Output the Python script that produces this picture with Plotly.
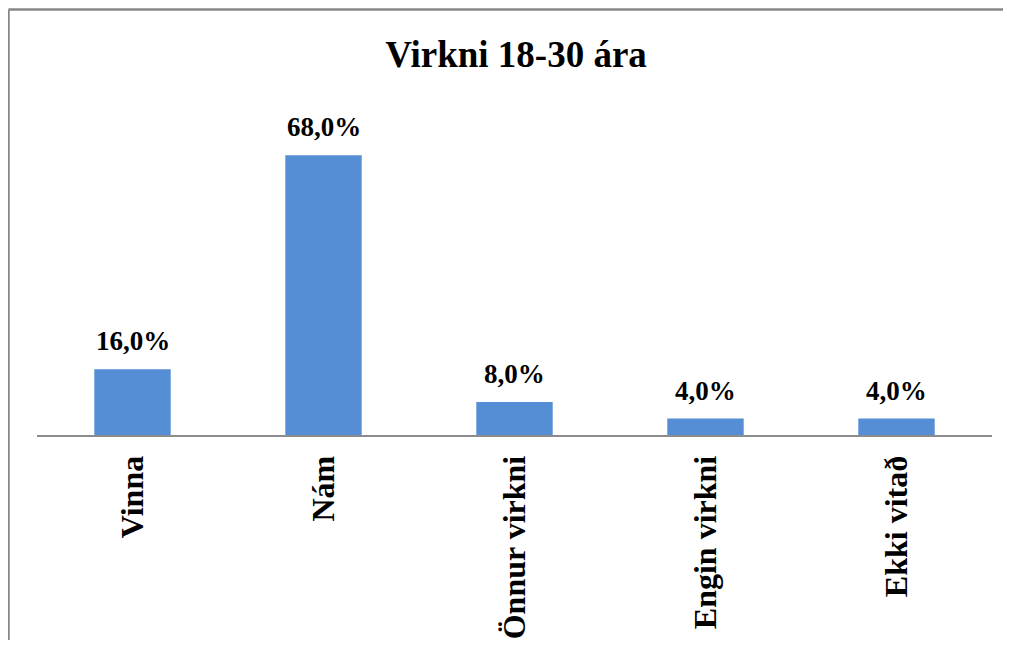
import plotly.graph_objects as go

categories = ["Vinna", "Nám", "Önnur virkni", "Engin virkni", "Ekki vitað"]
values = [16.0, 68.0, 8.0, 4.0, 4.0]
labels = [f"{v:.1f}%".replace(".", ",") for v in values]

# page has 8px body margin, so figure is sized to fit in the window
W, H = 995, 632
ml, mr, mt, mb = 29, 11, 98, 205
ymax = 80

fig = go.Figure()
fig.add_trace(go.Bar(
    x=categories,
    y=values,
    marker=dict(color="#558ED5", line=dict(width=0)),
    width=0.4,
))

for c, v, t in zip(categories, values, labels):
    fig.add_annotation(
        x=c, y=v, text=t, showarrow=False,
        yanchor="bottom", yshift=11,
        font=dict(family="Liberation Serif", size=27, color="black", weight="bold"),
    )

# outer chart border: left and top edges only (the rest falls off the picture)
pw = W - ml - mr
ph = H - mt - mb
x_left = (0.5 - ml) / pw
y_top = (H - mb - 1.5) / ph
border = dict(color="#878787", width=2.5)
fig.add_shape(type="line", xref="paper", yref="paper",
              x0=x_left, x1=x_left, y0=(H - mb - 700) / ph, y1=y_top, line=border)
fig.add_shape(type="line", xref="paper", yref="paper",
              x0=x_left, x1=(1100 - ml) / pw, y0=y_top, y1=y_top, line=border)

fig.update_layout(
    width=W, height=H,
    margin=dict(l=ml, r=mr, t=mt, b=mb),
    paper_bgcolor="white", plot_bgcolor="white",
    showlegend=False,
    title=dict(
        text="<b>Virkni 18-30 ára</b>",
        x=508 / W, xanchor="center", y=1 - 46 / H, yanchor="middle",
        font=dict(family="Liberation Serif", size=37, color="black"),
    ),
)
fig.update_xaxes(
    showline=True, linecolor="#8c8c8c", linewidth=2,
    tickangle=-90, ticks="", ticklabelstandoff=6, automargin=False,
    tickfont=dict(family="Liberation Serif", size=32, color="black", weight="bold"),
)
fig.update_yaxes(
    range=[0, ymax], visible=False, showgrid=False, zeroline=False,
    automargin=False,
)

fig.write_html("out.html")
